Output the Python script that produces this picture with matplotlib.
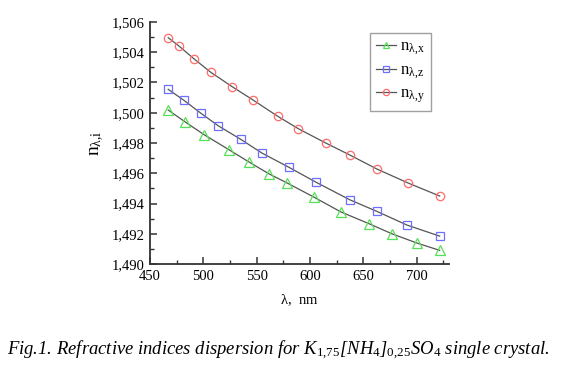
import numpy as np
import matplotlib
matplotlib.use('Agg')
import matplotlib.pyplot as plt
from matplotlib.ticker import MultipleLocator, FuncFormatter

plt.rcParams['font.family'] = 'Liberation Serif'
plt.rcParams['mathtext.fontset'] = 'custom'
plt.rcParams['mathtext.rm'] = 'Liberation Serif'
plt.rcParams['mathtext.it'] = 'Liberation Serif:italic'
plt.rcParams['mathtext.default'] = 'rm'

# data
wl_x = [467.1, 483.1, 500.8, 524.0, 543.0, 561.4, 578.0, 603.6, 628.6, 655.3, 676.9, 700.3, 721.5]
n_x = [1.50018, 1.49939, 1.49855, 1.49756, 1.49674, 1.49597, 1.49538, 1.49443, 1.49346,
       1.49267, 1.49200, 1.49139, 1.49091]

wl_z = [467.1, 481.5, 497.5, 514.0, 535.2, 554.9, 579.9, 605.4, 637.3, 662.8, 690.9, 721.5]
n_z = [1.50155, 1.50084, 1.49998, 1.49914, 1.49824, 1.49734, 1.49641, 1.49542, 1.49425,
       1.49348, 1.49258, 1.49185]

wl_y = [467.1, 477.2, 491.5, 507.1, 527.1, 546.7, 569.9, 589.2, 614.8, 637.3, 662.8, 691.9, 721.5]
n_y = [1.50496, 1.50441, 1.50355, 1.50267, 1.50172, 1.50084, 1.49976, 1.49894, 1.49800,
       1.49721, 1.49628, 1.49536, 1.49450]

fig = plt.figure(figsize=(5.68, 3.72), dpi=100)
ax = fig.add_axes([0.264, 0.29, 0.526, 0.651])

linecol = '#555555'
ax.plot(wl_x, n_x, '-', color=linecol, lw=0.9, marker='^', ms=6.5, mfc='none',
        mec='#55e055', mew=0.9, label=r'n$_{\lambda{,}\rm x}$')
ax.plot(wl_z, n_z, '-', color=linecol, lw=0.9, marker='s', ms=5.5, mfc='none',
        mec='#6f6fff', mew=0.9, label=r'n$_{\lambda{,}\rm z}$')
ax.plot(wl_y, n_y, '-', color=linecol, lw=0.9, marker='o', ms=6, mfc='none',
        mec='#ff6b6b', mew=0.9, label=r'n$_{\lambda{,}\rm y}$')

ax.set_xlim(450, 730)
ax.set_ylim(1.490, 1.506)
ax.xaxis.set_major_locator(MultipleLocator(50))
ax.xaxis.set_minor_locator(MultipleLocator(25))
ax.yaxis.set_major_locator(MultipleLocator(0.002))
ax.yaxis.set_minor_locator(MultipleLocator(0.001))
ax.yaxis.set_major_formatter(FuncFormatter(lambda v, p: '{:.3f}'.format(v).replace('.', ',')))

for s in ['top', 'right']:
    ax.spines[s].set_visible(False)
for s in ['left', 'bottom']:
    ax.spines[s].set_color('#333333')
    ax.spines[s].set_linewidth(1.3)
ax.tick_params(which='both', direction='in', colors='#333333', labelcolor='black', labelsize=10.5)
ax.tick_params(which='major', length=5, width=1.1, pad=4)
ax.tick_params(which='minor', length=3, width=1.0)

ax.set_xlabel(r'$\lambda$,  nm', fontsize=10.5, labelpad=7)
ax.set_ylabel(r'n$_{\lambda{,}i}$', fontsize=14, labelpad=4)

leg = ax.legend(loc='upper right', bbox_to_anchor=(0.94, 0.955), frameon=True, fancybox=False,
                fontsize=12, handlelength=1.2, handletextpad=0.25, borderpad=0.35,
                labelspacing=0.3, borderaxespad=0, edgecolor='#888888', markerscale=0.75)
leg.get_frame().set_linewidth(1.0)

fig.text(0.49, 0.058, r'Fig.1. Refractive indices dispersion for K$_{\mathit{1{,}75}}$[NH$_{\mathit{4}}$]$_{\mathit{0{,}25}}$SO$_{\mathit{4}}$ single crystal.',
         ha='center', va='center', fontsize=13.4, style='italic')

fig.savefig('out.png', dpi=100)
